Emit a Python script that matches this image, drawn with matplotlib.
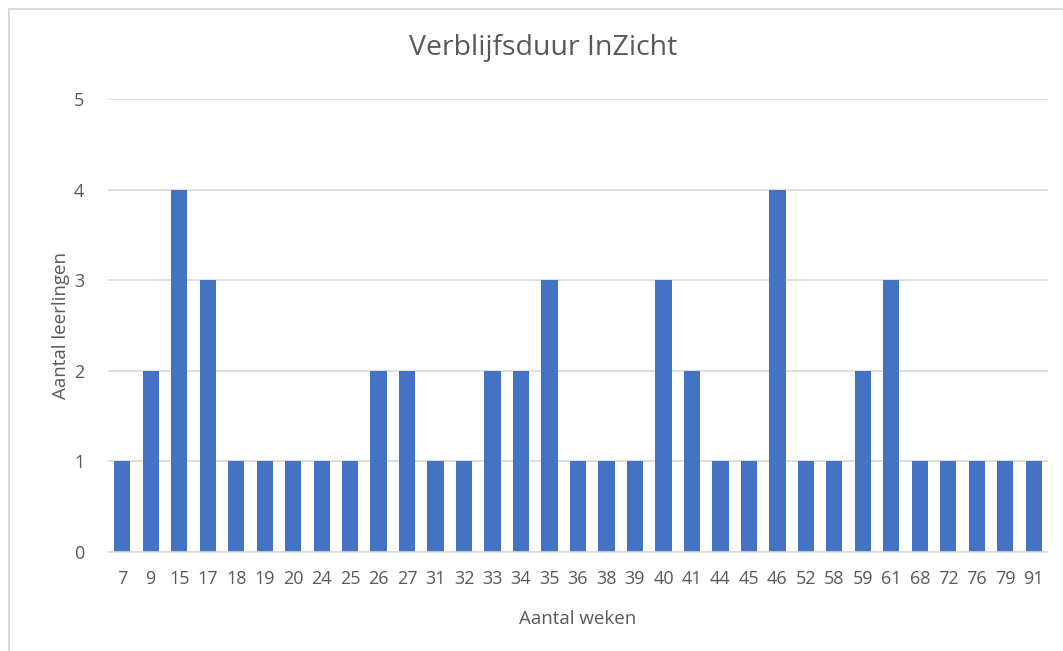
import matplotlib
matplotlib.use("Agg")
import matplotlib.pyplot as plt
from matplotlib.patches import Rectangle

weeks = ["7", "9", "15", "17", "18", "19", "20", "24", "25", "26", "27", "31", "32",
         "33", "34", "35", "36", "38", "39", "40", "41", "44", "45", "46", "52", "58",
         "59", "61", "68", "72", "76", "79", "91"]
counts = [1, 2, 4, 3, 1, 1, 1, 1, 1, 2, 2, 1, 1,
          2, 2, 3, 1, 1, 1, 3, 2, 1, 1, 4, 1, 1,
          2, 3, 1, 1, 1, 1, 1]

TXT = "#595959"
GRID = "#D9D9D9"
plt.rcParams["font.family"] = ["Open Sans", "DejaVu Sans"]

W, H = 1063, 651
fig = plt.figure(figsize=(W / 100, H / 100), dpi=100)
# outer chart border (left + top visible in the screenshot)
fig.add_artist(Rectangle((9 / W, -0.1), 1.2, 1 - 9 / H + 0.1, transform=fig.transFigure,
                         fill=False, edgecolor=GRID, lw=1.5))

ax = fig.add_axes([108 / W, 1 - 552 / H, (1048 - 108) / W, (552 - 99) / H])
x = range(len(weeks))
ax.bar(x, counts, width=0.57, color="#4472C4", zorder=3)
ax.set_xlim(-0.5, len(weeks) - 0.5)
ax.set_ylim(0, 5)
ax.set_yticks(range(6))
ax.yaxis.grid(True, color=GRID, lw=1.2, zorder=0)
for s in ("top", "right", "left"):
    ax.spines[s].set_visible(False)
ax.spines["bottom"].set_color(GRID)
ax.spines["bottom"].set_linewidth(1.2)
ax.spines["bottom"].set_zorder(4)
ax.tick_params(length=0, colors=TXT, labelsize=13)
ax.tick_params(axis="y", pad=17)
ax.tick_params(axis="x", pad=13)
ax.set_xticks(list(x))
ax.set_xticklabels(weeks)

ax.set_xlabel("Aantal weken", color=TXT, fontsize=13.5, labelpad=16)
ax.set_ylabel("Aantal leerlingen", color=TXT, fontsize=13.5, labelpad=3)
fig.text(543 / W, 1 - 48 / H, "Verblijfsduur InZicht", ha="center", va="center",
         color=TXT, fontsize=20.5)

fig.savefig("out.png", dpi=100, facecolor="white")
